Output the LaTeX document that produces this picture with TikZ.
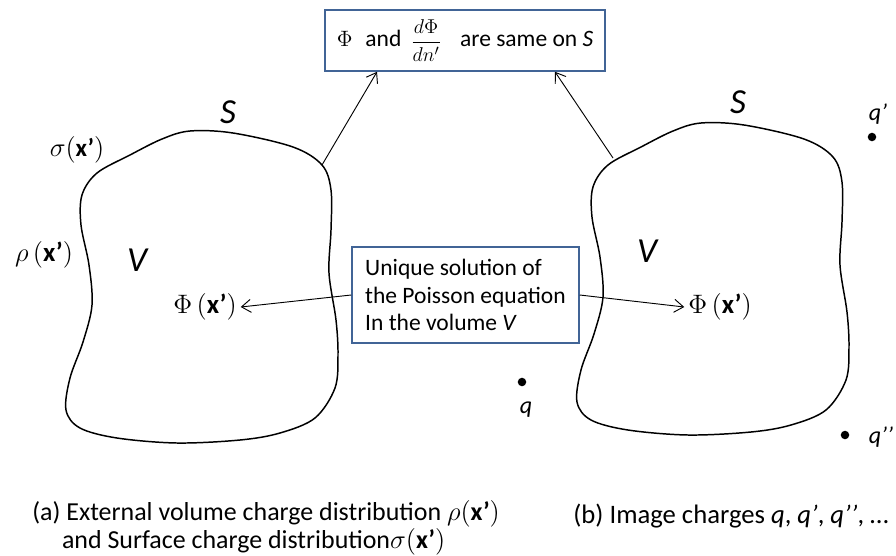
\documentclass[tikz,border=0pt]{standalone}
\usepackage{fontspec}
\usepackage{graphicx}
\setmainfont{Carlito}
\usetikzlibrary{arrows.meta, positioning, calc}
\definecolor{boxblue}{RGB}{65, 100, 150}

\begin{document}
\begin{tikzpicture}[x=0.54pt, y=-0.54pt, >={Straight Barb[length=5pt, width=7pt]},
    lbl/.style={font=\fontsize{12.7}{14.9}\selectfont, inner sep=2pt},
    mathlbl/.style={font=\fontsize{14.5}{17}\selectfont, inner sep=2pt},
    caplbl/.style={font=\fontsize{14}{13.5}\selectfont, inner sep=0pt},
    biglbl/.style={font=\fontsize{19}{22}\selectfont\itshape},
    infobox/.style={draw=boxblue, line width=0.8pt, font=\fontsize{12.7}{14.9}\selectfont},
    surface/.style={line width=0.8pt},
    conn/.style={->, line width=0.5pt},
    charge/.style={circle, fill, inner sep=0pt, minimum size=4.6pt}]
    \useasboundingbox (0,0) rectangle (896,555);
    % the two surfaces S
    \foreach \dx/\dy in {0/0, 511/-8}
        \draw[surface, shift={(\dx,\dy)}] plot[smooth cycle, tension=0.55] coordinates {
            (190,131) (233,133) (293,147) (322,165) (331,190) (331,230) (329,273)
            (336,320) (338,355) (335,388) (315,418) (280,433) (240,440) (177,443)
            (117,438) (80,428) (66,410) (70,378) (83,342) (92,305) (89,265)
            (81,225) (82,195) (97,173) (130,155) (162,139)};
    \coordinate (edgeL) at (322,165);
    \coordinate (edgeR) at (613,158);

    % boxes
    \node[infobox, minimum width=151pt, minimum height=33pt] (samebox) at (465,40.5)
        {$\Phi$\hspace{7pt}and\hspace{5pt}\raisebox{-0.5pt}{\scalebox{0.9}{$\displaystyle\frac{d\Phi}{dn'}$}}\hspace{10pt}are same on \textit{S}\hspace{9pt}};
    \node[infobox, align=left, minimum width=122.6pt, minimum height=51.8pt, inner ysep=2pt] (poisson) at (465.5,295)
        {Unique solution of\\the Poisson equation\\In the volume \textit{V}};

    % left picture
    \node[biglbl] (surfL) at (228,112) {S};
    \node[biglbl] (volL) at (137,260) {V};
    \node[mathlbl, font=\fontsize{13.5}{16}\selectfont] (sigma) at (77,150) {$\sigma($\textbf{x’}$)$};
    \node[mathlbl] (rho) at (44,255) {$\rho\,($\textbf{x’}$)$};
    \node[mathlbl] (potL) at (205,307) {$\Phi\,($\textbf{x’}$)$};

    % right picture
    \node[biglbl] (surfR) at (738,102) {S};
    \node[biglbl] (volR) at (647,251) {V};
    \node[mathlbl] (potR) at (720,307) {$\Phi\,($\textbf{x’}$)$};
    \node[charge] (q) at (522,382) {};
    \node[charge] (q1) at (872,137) {};
    \node[charge] (q2) at (845,435) {};
    \node[lbl, font=\fontsize{13}{15}\selectfont\itshape] (qlbl) at (526,410) {q};
    \node[lbl, font=\fontsize{13}{15}\selectfont\itshape] (q1lbl) at (878,114) {q’};
    \node[lbl, font=\fontsize{13}{15}\selectfont\itshape] (q2lbl) at (881,437) {q’’};

    % connectors
    \draw[conn] (edgeL) -- ($(samebox.south)+(-88,0)$);
    \draw[conn] (edgeR) -- ($(samebox.south)+(90,0)$);
    \draw[conn] (poisson.west) -- (potL.east);
    \draw[conn] (poisson.east) -- (potR.west);

    % captions
    \node[caplbl, anchor=north west, align=left] (capA) at (32,500)
        {(a) External volume charge distribution $\rho($\textbf{x’}$)$\\
         \hspace{16pt}and Surface charge distribution$\sigma($\textbf{x’}$)$};
    \node[caplbl, anchor=base west, font=\fontsize{14.4}{14}\selectfont] (capB) at (573,523)
        {(b) Image charges \textit{q}, \textit{q’}, \textit{q’’}, …};
\end{tikzpicture}
\end{document}
